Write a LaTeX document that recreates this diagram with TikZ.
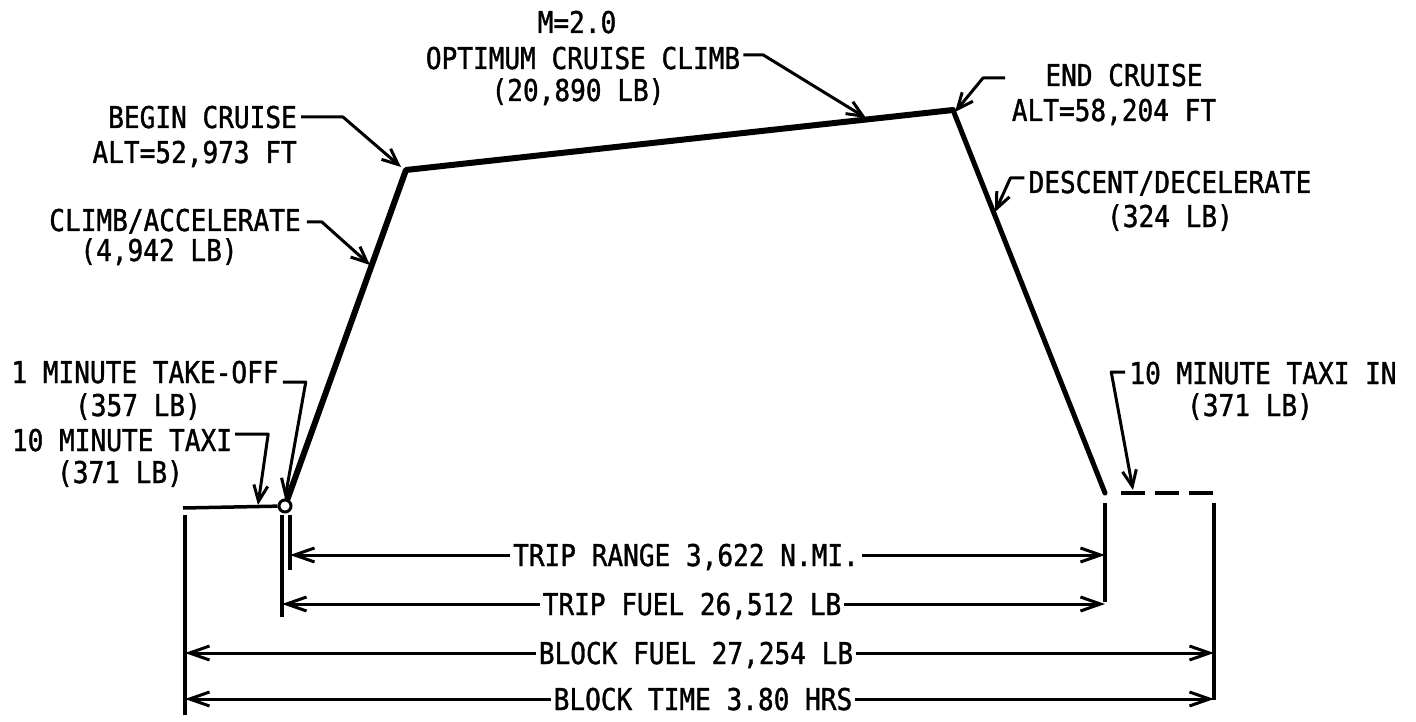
\documentclass[tikz,border=0pt]{standalone}
\usepackage{fontspec}
\newfontfamily\lettering[FakeStretch=0.87,FakeBold=1.2]{DejaVu Sans Mono}
\usetikzlibrary{arrows.meta}
\begin{document}
\begin{tikzpicture}[x=1pt,y=-1pt,
  lbl/.style={font=\lettering\fontsize{30}{33}\selectfont, inner sep=0pt, text height=22pt, text depth=0pt},
  flight/.style={line width=6pt, line cap=round, line join=round},
  leader/.style={line width=3pt, line join=round, -{Straight Barb[length=16pt,width=14pt]}},
  dim/.style={line width=3pt, -{Straight Barb[length=20pt,width=14pt]}},
  ext/.style={line width=3.5pt},
  taxiin/.style={line width=4pt, dash pattern=on 24pt off 10pt}]
\useasboundingbox (0,0) rectangle (1416,722);
% flight profile
\coordinate (T0) at (183,508);
\node[circle, draw, fill=white, line width=3pt, minimum size=12pt, inner sep=0pt] (TO) at (285,506) {};
\coordinate (BC) at (406,170);
\coordinate (EC) at (953,110);
\coordinate (DE) at (1105,493);
\coordinate (TI1) at (1121,493);
\coordinate (TI2) at (1214,493);
\draw[line width=3.5pt] (T0) -- (TO);
\draw[flight] (TO) -- (BC) -- (EC);
\draw[line width=5pt, line cap=round] (EC) -- (DE);
\draw[taxiin] (TI1) -- (TI2);
% extension lines
\coordinate (VL1) at (185,515); \coordinate (VL1b) at (185,715);
\coordinate (VL2) at (282,515); \coordinate (VL2b) at (282,617);
\coordinate (VL3) at (290,515); \coordinate (VL3b) at (290,570);
\coordinate (VR1) at (1105,503); \coordinate (VR1b) at (1105,602);
\coordinate (VR2) at (1214,503); \coordinate (VR2b) at (1214,700);
\draw[ext] (VL1) -- (VL1b);
\draw[ext] (VL2) -- (VL2b);
\draw[ext] (VL3) -- (VL3b);
\draw[ext] (VR1) -- (VR1b);
\draw[ext] (VR2) -- (VR2b);
% labels top
\node[lbl] (m2) at (577,22) {M=2.0};
\node[lbl] (oc1) at (583,58) {OPTIMUM CRUISE CLIMB};
\node[lbl] (oc2) at (578,90) {(20,890 LB)};
\node[lbl, anchor=east] (bc1) at (297,117) {BEGIN CRUISE};
\node[lbl, anchor=east] (bc2) at (297,152) {ALT=52,973 FT};
\node[lbl] (cl1) at (175,220) {CLIMB/ACCELERATE};
\node[lbl] (cl2) at (159,250) {(4,942 LB)};
\node[lbl] (tk1) at (145,372) {1 MINUTE TAKE-OFF};
\node[lbl] (tk2) at (138,405) {(357 LB)};
\node[lbl] (tx1) at (122,440) {10 MINUTE TAXI};
\node[lbl] (tx2) at (120,472) {(371 LB)};
\node[lbl] (ec1) at (1124,75) {END CRUISE};
\node[lbl] (ec2) at (1114,110) {ALT=58,204 FT};
\node[lbl] (dd1) at (1170,182) {DESCENT/DECELERATE};
\node[lbl] (dd2) at (1170,216) {(324 LB)};
\node[lbl] (ti1) at (1263,373) {10 MINUTE TAXI IN};
\node[lbl] (ti2) at (1250,405) {(371 LB)};
% leaders
\coordinate (ocT) at (866,118);
\coordinate (bcT) at (401,167);
\coordinate (clT) at (370,265);
\coordinate (ecS) at (1005,78);
\coordinate (ecT) at (955,112);
\coordinate (ddT) at (995,212);
\coordinate (txT) at (258,505);
\coordinate (tiT) at (1133,490);
\draw[leader] (oc1.east) ++(3,-3) -- ++(20,0) -- (ocT);
\draw[leader] (bc1.east) ++(4,0) -- ++(42,0) -- (bcT);
\draw[leader] (cl1.east) ++(6,2) -- ++(15,0) -- (clT);
\draw[leader] (ecS) -- ++(-22,0) -- (ecT);
\draw[leader] (dd1.west) ++(-4,-4) -- ++(-14,0) -- (ddT);
\draw[leader] (tk1.east) ++(4,10) -- ++(23,0) -- (TO.north);
\draw[leader] (tx1.east) ++(3,-6) -- ++(33,0) -- (txT);
\draw[leader] (ti1.west) ++(-4,-1) -- ++(-14,0) -- (tiT);
% dimensions
\node[lbl] (tr) at (686,555) {TRIP RANGE 3,622 N.MI.};
\node[lbl] (tf) at (692,604) {TRIP FUEL 26,512 LB};
\node[lbl] (bf) at (696,653) {BLOCK FUEL 27,254 LB};
\node[lbl] (bt) at (703,699) {BLOCK TIME 3.80 HRS};
\draw[dim] (tr.west) ++(-3,0) -- (tr.west -| VL3);
\draw[dim] (tr.east) ++(3,0) -- (tr.east -| VR1);
\draw[dim] (tf.west) ++(-3,0) -- (tf.west -| VL2);
\draw[dim] (tf.east) ++(3,0) -- (tf.east -| VR1);
\draw[dim] (bf.west) ++(-3,0) -- (bf.west -| VL1);
\draw[dim] (bf.east) ++(3,0) -- (bf.east -| VR2);
\draw[dim] (bt.west) ++(-3,0) -- (bt.west -| VL1);
\draw[dim] (bt.east) ++(3,0) -- (bt.east -| VR2);
\end{tikzpicture}
\end{document}
